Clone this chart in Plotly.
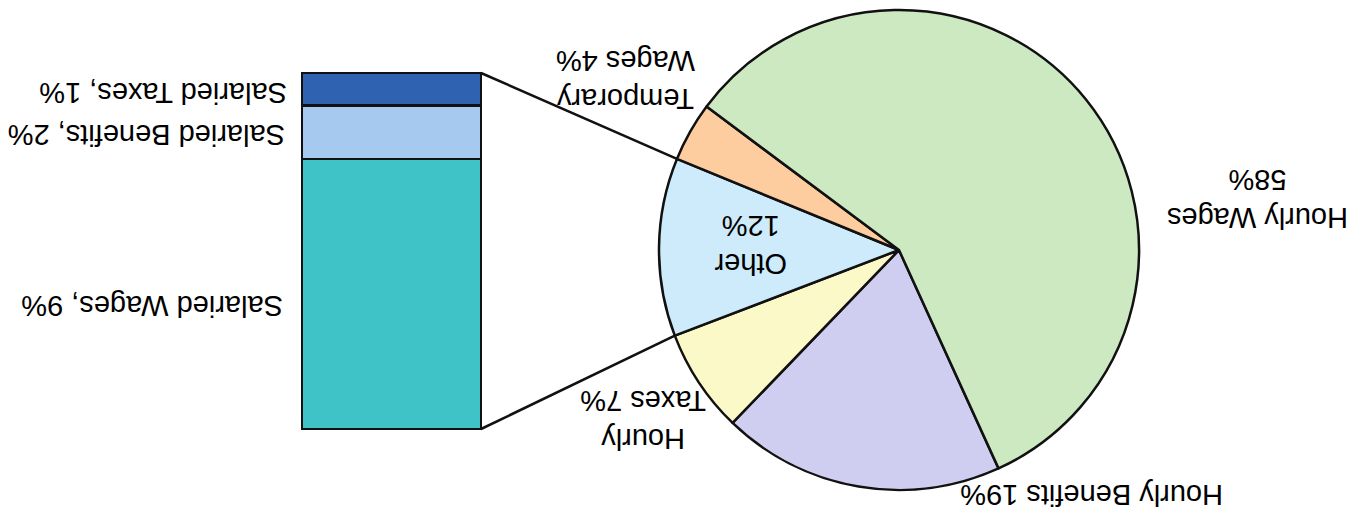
import math
import plotly.graph_objects as go

# ---------------- data ----------------
pie_labels = ["Hourly Benefits", "Hourly Taxes", "Other", "Temporary Wages", "Hourly Wages"]
pie_values = [19, 7, 12, 4, 58]
pie_text = ["Hourly Benefits 19%", "Hourly<br>Taxes 7%", "Other<br>12%",
            "Temporary<br>Wages 4%", "Hourly Wages<br>58%"]
pie_colors = ["#D0CEF0", "#FBF9C8", "#CDEBFA", "#FDCDA0", "#CDE9C2"]

bar_labels = ["Salaried Wages", "Salaried Benefits", "Salaried Taxes"]
bar_values = [9.1, 1.8, 1.1]
bar_text = ["Salaried Wages, 9%", "Salaried Benefits, 2%", "Salaried Taxes, 1%"]
bar_colors = ["#3FC3C7", "#A6C9F0", "#2F62B0"]

# ---------------- layout geometry (page pixels) ----------------
OX, OY = 8, 8            # page body margin offset
W, H = 1356 - OX, 515 - OY
FONT = "Arial"
FS = 29
LW = 2.5

# pie circle (page coords)
cx, cy, R = 899, 250, 240
rotation = 155.5

# bar rectangle (page coords)
bx0, bx1, by_top, by_bot = 302, 481, 73, 429


def px2paper(x, y):
    return (x - OX) / W, 1 - (y - OY) / H


fig = go.Figure()

pdx0, pdy0 = px2paper(cx - R, cy + R)
pdx1, pdy1 = px2paper(cx + R, cy - R)
fig.add_trace(go.Pie(
    labels=pie_labels, values=pie_values, sort=False, direction="clockwise",
    rotation=rotation, textinfo="none", hoverinfo="label+percent",
    marker=dict(colors=pie_colors, line=dict(color="#111111", width=LW)),
    domain=dict(x=[pdx0, pdx1], y=[pdy0, pdy1]),
    showlegend=False,
))

# stacked bar
total = sum(bar_values)
xpad = 0.03
ypad = 0.2
bw = bx1 - bx0
bh = by_bot - by_top
ppu = bh / total
for lab, v, c in zip(bar_labels, bar_values, bar_colors):
    fig.add_trace(go.Bar(
        x=[0], y=[v], name=lab, width=1, marker=dict(color=c, line=dict(color="#111111", width=LW)),
        xaxis="x", yaxis="y", showlegend=False, hoverinfo="name+y",
    ))

ax0, ay0 = px2paper(bx0 - xpad * bw, by_bot + ypad * ppu)
ax1, ay1 = px2paper(bx1 + xpad * bw, by_top - ypad * ppu)
fig.update_layout(
    barmode="stack",
    width=W, height=H,
    margin=dict(l=0, r=0, t=0, b=0),
    paper_bgcolor="white", plot_bgcolor="rgba(0,0,0,0)",
    xaxis=dict(domain=[ax0, ax1], range=[-0.5 - xpad, 0.5 + xpad], visible=False, fixedrange=True),
    yaxis=dict(domain=[ay0, ay1], range=[-ypad, total + ypad], visible=False, fixedrange=True),
    font=dict(family=FONT, size=FS, color="black"),
)

# connector lines: bar top/bottom right corners to the edges of the "Other" wedge
idx = pie_labels.index("Other")
vt = sum(pie_values)
start = rotation + 360 * sum(pie_values[:idx]) / vt
end = start + 360 * pie_values[idx] / vt


def pie_pt(deg):
    a = math.radians(deg)
    return cx + R * math.sin(a), cy - R * math.cos(a)


for corner_y, ang in [(by_top, end), (by_bot, start)]:
    ex, ey = pie_pt(ang)
    x0, y0 = px2paper(bx1, corner_y)
    x1, y1 = px2paper(ex, ey)
    fig.add_shape(type="line", xref="paper", yref="paper", x0=x0, y0=y0, x1=x1, y1=y1,
                  line=dict(color="#111111", width=LW))

# labels (upside down), page coords of label centres
pie_label_pos = [(1092, 495), (643, 420), (751, 245), (626, 80), (1258, 199)]
bar_label_pos = [(152, 306), (147, 135), (163, 93)]

for t, (x, y) in zip(pie_text + bar_text, pie_label_pos + bar_label_pos):
    px, py = px2paper(x, y)
    fig.add_annotation(x=px, y=py, xref="paper", yref="paper", text=t, showarrow=False,
                       textangle=180, xanchor="center", yanchor="middle", align="center",
                       font=dict(family=FONT, size=FS, color="black"))

fig.write_html("out.html")
